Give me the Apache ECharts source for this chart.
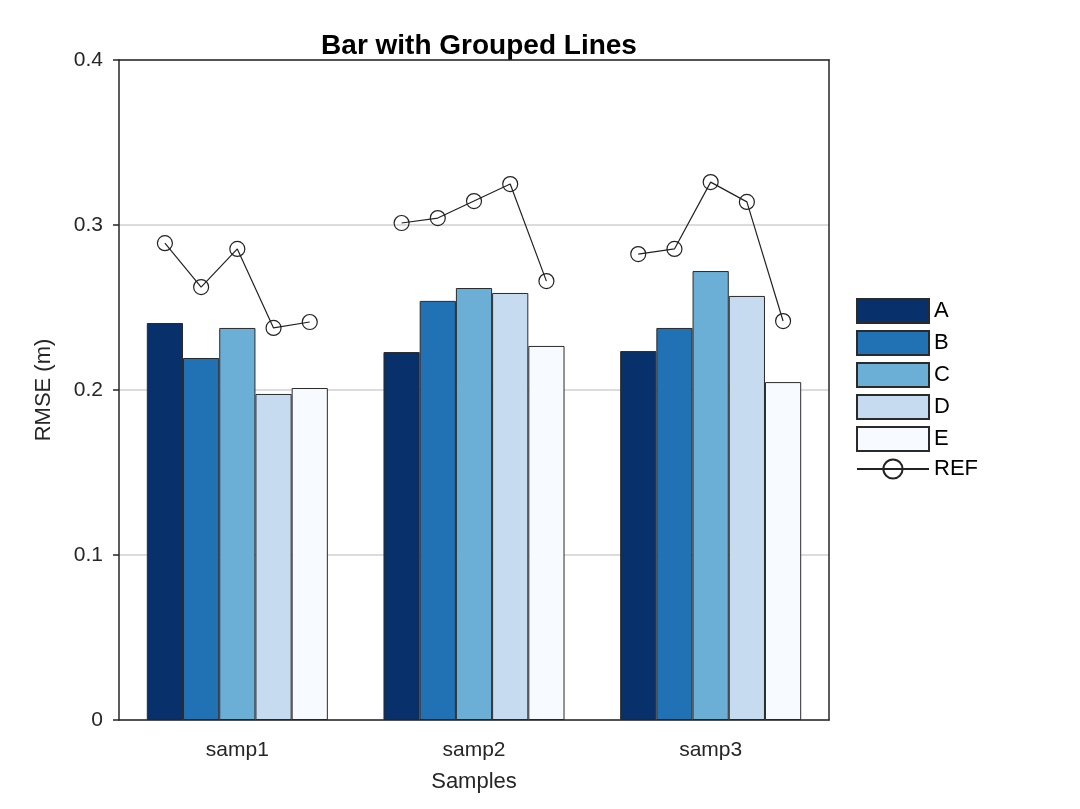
<!DOCTYPE html>
<html><head><meta charset="utf-8">
<script src="https://cdn.jsdelivr.net/npm/echarts@6/dist/echarts.min.js"></script>
<style>html,body{margin:0;padding:0;background:#fff}#c{width:1080px;height:809px}</style>
</head><body><div id="c"></div>
<script>
const categories = ['samp1', 'samp2', 'samp3'];
const seriesNames = ['A', 'B', 'C', 'D', 'E'];
const A = [0.2406, 0.2230, 0.2236];
const B = [0.2194, 0.2540, 0.2376];
const C = [0.2376, 0.2618, 0.2721];
const D = [0.1976, 0.2588, 0.2570];
const E = [0.2012, 0.2267, 0.2048];
const REF1 = [0.2890, 0.2624, 0.2855, 0.2376, 0.2412];
const REF2 = [0.3012, 0.3042, 0.3145, 0.3248, 0.2660];
const REF3 = [0.2824, 0.2855, 0.3260, 0.3140, 0.2418];
const yTicks = [0, 0.1, 0.2, 0.3, 0.4];

const barValues = [A, B, C, D, E];
const refValues = [REF1, REF2, REF3];
const colors = ['#08306b', '#2171b5', '#6baed6', '#c6dbef', '#f7fbff'];
const catGap = 0.235;
const barFrac = (1 - catGap) / seriesNames.length;

const font = 'Liberation Sans, Arial, sans-serif';
const axisColor = '#262626';
const chart = echarts.init(document.getElementById('c'));
const series = [];
seriesNames.forEach((n, i) => {
  series.push({
    name: n, type: 'bar', data: barValues[i], barGap: '0%', barCategoryGap: (catGap * 100) + '%',
    itemStyle: { color: colors[i], borderColor: '#2a2a2a', borderWidth: 1 },
    xAxisIndex: 0, yAxisIndex: 0, z: 2
  });
});
refValues.forEach((vals, g) => {
  series.push({
    name: 'REF', type: 'line', xAxisIndex: 1, yAxisIndex: 0,
    data: vals.map((v, k) => [g + 0.5 + (k - (vals.length - 1) / 2) * barFrac, v]),
    symbol: 'circle', symbolSize: 15,
    lineStyle: { color: '#222', width: 1.2 },
    itemStyle: { color: 'rgba(255,255,255,0)', borderColor: '#222', borderWidth: 1.2 },
    z: 5
  });
});
const legendData = seriesNames.map(n => ({ name: n, icon: 'rect' })).concat([{ name: 'REF' }]);
chart.setOption({
  animation: false,
  title: { text: 'Bar with Grouped Lines', left: 474, top: 27, textAlign: 'center',
    textStyle: { fontFamily: font, fontSize: 28, fontWeight: 'bold', color: '#000' } },
  grid: { left: 119, right: 251, top: 60, bottom: 89 },
  legend: {
    data: legendData, orient: 'vertical', left: 851, top: 293,
    itemWidth: 72, itemHeight: 24, itemGap: 6,
    textStyle: { fontFamily: font, fontSize: 22, color: '#000' }
  },
  xAxis: [{
    type: 'category', data: categories, name: 'Samples', nameLocation: 'middle', nameGap: 51,
    nameTextStyle: { fontFamily: font, fontSize: 22, color: axisColor },
    axisLine: { lineStyle: { color: axisColor, width: 1.5 } },
    axisTick: { alignWithLabel: true, length: 6, lineStyle: { color: axisColor, width: 1.5 } },
    axisLabel: { fontFamily: font, fontSize: 21, color: axisColor, margin: 20 },
    z: 10
  }, {
    type: 'value', min: 0, max: categories.length, show: false
  }, {
    type: 'category', data: categories, position: 'top',
    axisLine: { show: true, lineStyle: { color: axisColor, width: 1.5 } },
    axisTick: { show: false }, axisLabel: { show: false }, z: 10
  }],
  yAxis: [{
    type: 'value', min: yTicks[0], max: yTicks[yTicks.length - 1], interval: 0.1,
    name: 'RMSE (m)', nameLocation: 'middle', nameGap: 64,
    nameTextStyle: { fontFamily: font, fontSize: 22, color: axisColor },
    axisLine: { show: true, lineStyle: { color: axisColor, width: 1.5 } },
    axisTick: { show: true, length: 6, lineStyle: { color: axisColor, width: 1.5 } },
    axisLabel: { fontFamily: font, fontSize: 21, color: axisColor, margin: 16 },
    splitLine: { show: true, lineStyle: { color: '#dcdcdc', width: 2 } }
  }, {
    type: 'value', min: yTicks[0], max: yTicks[yTicks.length - 1], interval: 0.1, position: 'right',
    axisLine: { show: true, lineStyle: { color: axisColor, width: 1.5 } },
    axisTick: { show: false }, axisLabel: { show: false }, splitLine: { show: false }, z: 10
  }],
  series: series
});
</script></body></html>
